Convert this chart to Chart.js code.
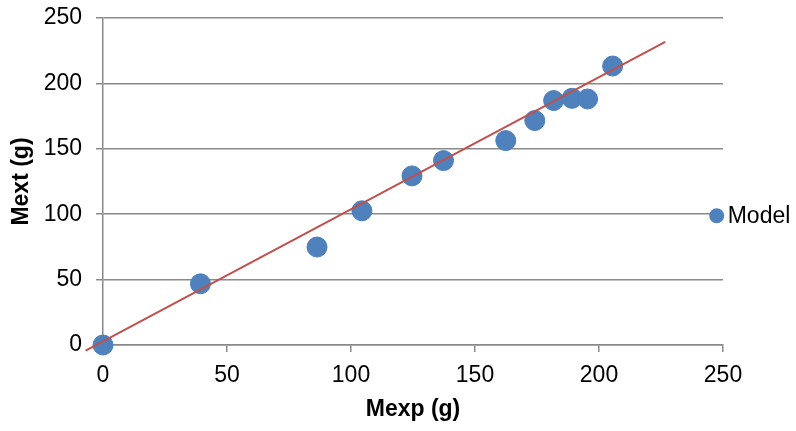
<!DOCTYPE html>
<html>
<head>
    <meta charset="UTF-8">
    <title>Mext vs Mexp</title>
    <style>
        html, body {
            margin: 0;
            padding: 0;
            background: #fff;
        }

        #wrap {
            width: 796px;
            height: 431px;
        }
    </style>
</head>
<body>
    <div id="wrap">
        <canvas id="chart" width="796" height="431"></canvas>
    </div>
    <script src="https://cdn.jsdelivr.net/npm/chart.js"></script>
    <script>
        // measured points (Mexp, Mext)
        const mexp = [0, 39.3, 86.3, 104.4, 124.6, 137.3, 162.4, 174.1, 181.7, 189.1, 195.4, 205.5];
        const mext = [0, 46.8, 74.9, 102.6, 129.3, 141.0, 156.3, 171.6, 186.9, 188.6, 188.1, 213.3];

        // linear trend line end points
        const trendX = [-7, 226.7];
        const trendY = [-4.3, 231.7];

        const axisTicks = [0, 50, 100, 150, 200, 250];

        const gray = '#8a8a8a';
        const blue = '#4f81bd';
        const red = '#c0504d';
        const fontFamily = '"Liberation Sans", Arial, sans-serif';

        // legend drawn beside the plot, like the spreadsheet one
        const sideLegend = {
            id: 'sideLegend',
            afterDraw(chart) {
                const ctx = chart.ctx;
                const ds = chart.data.datasets[0];
                const x = 716.7, y = 215.7;
                ctx.save();
                ctx.beginPath();
                ctx.arc(x, y, 7.5, 0, Math.PI * 2);
                ctx.fillStyle = ds.backgroundColor;
                ctx.fill();
                ctx.fillStyle = '#000';
                ctx.font = '23px ' + fontFamily;
                ctx.textBaseline = 'middle';
                ctx.textAlign = 'left';
                ctx.fillText(ds.label, x + 11, y + 1);
                ctx.restore();
            }
        };

        function makeChart() {
            const ctx = document.getElementById('chart').getContext('2d');
            new Chart(ctx, {
                type: 'scatter',
                data: {
                    datasets: [{
                        label: 'Model',
                        data: mexp.map((x, i) => ({ x: x, y: mext[i] })),
                        backgroundColor: blue,
                        borderColor: '#4a7ebb',
                        borderWidth: 1,
                        pointRadius: 10,
                        clip: false,
                        order: 2
                    }, {
                        label: 'Linear (Model)',
                        data: trendX.map((x, i) => ({ x: x, y: trendY[i] })),
                        showLine: true,
                        borderColor: red,
                        borderWidth: 2,
                        pointRadius: 0,
                        clip: false,
                        order: 1
                    }]
                },
                options: {
                    responsive: false,
                    animation: false,
                    layout: {
                        padding: { left: 0, right: 73, top: 18, bottom: 0 }
                    },
                    plugins: {
                        legend: { display: false },
                        tooltip: { enabled: false }
                    },
                    scales: {
                        x: {
                            type: 'linear',
                            min: 0,
                            max: 250,
                            afterBuildTicks: scale => {
                                scale.ticks = axisTicks.map(v => ({ value: v }));
                            },
                            afterFit: scale => {
                                scale.height = 86;
                                scale.paddingLeft = 0;
                                scale.paddingRight = 0;
                            },
                            grid: {
                                drawOnChartArea: false,
                                drawTicks: true,
                                tickLength: 7,
                                color: gray,
                                lineWidth: 1.5
                            },
                            border: { display: true, color: gray, width: 1.5 },
                            ticks: {
                                color: '#000',
                                padding: 10,
                                font: { family: fontFamily, size: 23 }
                            },
                            title: {
                                display: true,
                                text: 'Mexp (g)',
                                color: '#000',
                                padding: { top: 0, bottom: 8 },
                                font: { family: fontFamily, size: 23, weight: 'bold' }
                            }
                        },
                        y: {
                            type: 'linear',
                            min: 0,
                            max: 250,
                            afterBuildTicks: scale => {
                                scale.ticks = axisTicks.map(v => ({ value: v }));
                            },
                            afterFit: scale => {
                                scale.width = 103;
                                scale.paddingTop = 0;
                                scale.paddingBottom = 0;
                            },
                            grid: {
                                drawTicks: true,
                                tickLength: 7,
                                color: gray,
                                lineWidth: 1.5
                            },
                            border: { display: true, color: gray, width: 1.5 },
                            ticks: {
                                color: '#000',
                                padding: 14,
                                font: { family: fontFamily, size: 23 }
                            },
                            title: {
                                display: true,
                                text: 'Mext (g)',
                                color: '#000',
                                padding: { top: 8, bottom: 0 },
                                font: { family: fontFamily, size: 23, weight: 'bold' }
                            }
                        }
                    }
                },
                plugins: [sideLegend]
            });
        }

        window.onload = makeChart;
    </script>
</body>
</html>
